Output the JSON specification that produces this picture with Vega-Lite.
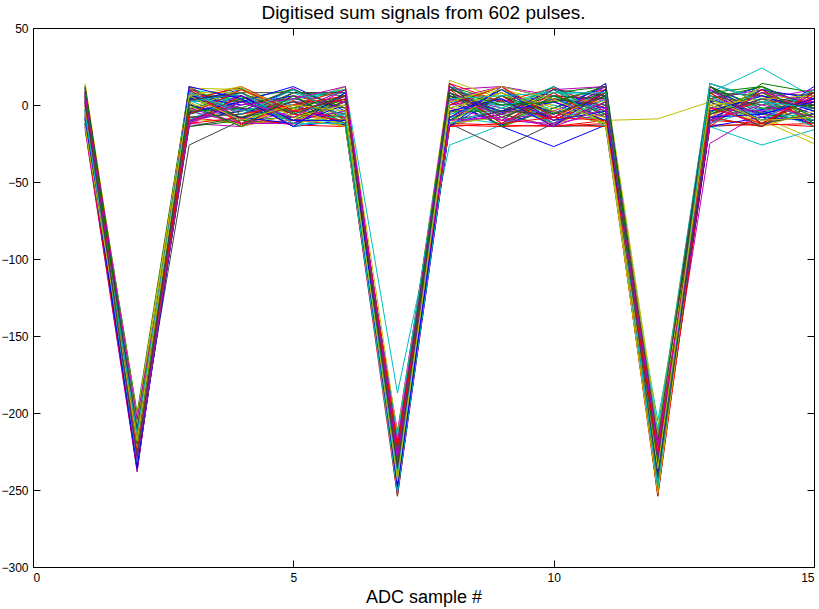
{
  "$schema": "https://vega.github.io/schema/vega-lite/v6.json",
  "width": 781,
  "height": 539,
  "autosize": {"type": "none"},
  "padding": {"left": 33, "top": 28, "right": 5, "bottom": 42},
  "background": "white",
  "title": {"text": "Digitised sum signals from 602 pulses.", "font": "Liberation Sans", "fontSize": 19, "fontWeight": "normal", "color": "black", "offset": 8, "baseline": "alphabetic", "dy": 24},
  "config": {
    "view": {"stroke": "black", "strokeWidth": 1},
    "axis": {"domain": false, "grid": false, "tickColor": "black", "tickWidth": 1, "tickSize": -7, "labelFont": "Liberation Sans", "labelFontSize": 12, "labelColor": "black", "labelPadding": 12, "titleFont": "Liberation Sans", "titleFontSize": 18, "titleFontWeight": "normal", "titleColor": "black"}
  },
  "data": {"values": [
    {"p":1,"x":1,"y":2},{"p":1,"x":2,"y":-222},{"p":1,"x":3,"y":5},{"p":1,"x":4,"y":-3},{"p":1,"x":5,"y":-8},{"p":1,"x":6,"y":2},{"p":1,"x":7,"y":-236},{"p":1,"x":8,"y":4},{"p":1,"x":9,"y":-14},{"p":1,"x":10,"y":-27},{"p":1,"x":11,"y":-13},{"p":1,"x":12,"y":-228},{"p":1,"x":13,"y":-4},{"p":1,"x":14,"y":6},{"p":1,"x":15,"y":-6},
    {"p":2,"x":1,"y":10},{"p":2,"x":2,"y":-215},{"p":2,"x":3,"y":8},{"p":2,"x":4,"y":3},{"p":2,"x":5,"y":-5},{"p":2,"x":6,"y":6},{"p":2,"x":7,"y":-242},{"p":2,"x":8,"y":12},{"p":2,"x":9,"y":2},{"p":2,"x":10,"y":-8},{"p":2,"x":11,"y":10},{"p":2,"x":12,"y":-254},{"p":2,"x":13,"y":3},{"p":2,"x":14,"y":-5},{"p":2,"x":15,"y":4},
    {"p":3,"x":1,"y":-5},{"p":3,"x":2,"y":-226},{"p":3,"x":3,"y":-8},{"p":3,"x":4,"y":-12},{"p":3,"x":5,"y":-10},{"p":3,"x":6,"y":-13},{"p":3,"x":7,"y":-250},{"p":3,"x":8,"y":-12},{"p":3,"x":9,"y":-13},{"p":3,"x":10,"y":-14},{"p":3,"x":11,"y":-12},{"p":3,"x":12,"y":-232},{"p":3,"x":13,"y":-10},{"p":3,"x":14,"y":-12},{"p":3,"x":15,"y":-14},
    {"p":4,"x":1,"y":6},{"p":4,"x":2,"y":-210},{"p":4,"x":3,"y":10},{"p":4,"x":4,"y":5},{"p":4,"x":5,"y":0},{"p":4,"x":6,"y":12},{"p":4,"x":7,"y":-187},{"p":4,"x":8,"y":-26},{"p":4,"x":9,"y":-13},{"p":4,"x":10,"y":2},{"p":4,"x":11,"y":5},{"p":4,"x":12,"y":-220},{"p":4,"x":13,"y":8},{"p":4,"x":14,"y":24},{"p":4,"x":15,"y":5},
    {"p":5,"x":1,"y":-10},{"p":5,"x":2,"y":-230},{"p":5,"x":3,"y":-12},{"p":5,"x":4,"y":-14},{"p":5,"x":5,"y":-6},{"p":5,"x":6,"y":-8},{"p":5,"x":7,"y":-215},{"p":5,"x":8,"y":10},{"p":5,"x":9,"y":12},{"p":5,"x":10,"y":6},{"p":5,"x":11,"y":3},{"p":5,"x":12,"y":-240},{"p":5,"x":13,"y":-25},{"p":5,"x":14,"y":-5},{"p":5,"x":15,"y":-12},
    {"p":6,"x":1,"y":13},{"p":6,"x":2,"y":-205},{"p":6,"x":3,"y":6},{"p":6,"x":4,"y":2},{"p":6,"x":5,"y":-3},{"p":6,"x":6,"y":0},{"p":6,"x":7,"y":-225},{"p":6,"x":8,"y":5},{"p":6,"x":9,"y":3},{"p":6,"x":10,"y":0},{"p":6,"x":11,"y":-10},{"p":6,"x":12,"y":-9},{"p":6,"x":13,"y":2},{"p":6,"x":14,"y":-10},{"p":6,"x":15,"y":-25},
    {"p":7,"x":1,"y":0},{"p":7,"x":2,"y":-238},{"p":7,"x":3,"y":4},{"p":7,"x":4,"y":8},{"p":7,"x":5,"y":8},{"p":7,"x":6,"y":8},{"p":7,"x":7,"y":-230},{"p":7,"x":8,"y":-12},{"p":7,"x":9,"y":-28},{"p":7,"x":10,"y":-12},{"p":7,"x":11,"y":0},{"p":7,"x":12,"y":-225},{"p":7,"x":13,"y":-8},{"p":7,"x":14,"y":-3},{"p":7,"x":15,"y":2},
    {"p":8,"x":1,"y":-3},{"p":8,"x":2,"y":-218},{"p":8,"x":3,"y":2},{"p":8,"x":4,"y":10},{"p":8,"x":5,"y":-2},{"p":8,"x":6,"y":-12},{"p":8,"x":7,"y":-245},{"p":8,"x":8,"y":8},{"p":8,"x":9,"y":-5},{"p":8,"x":10,"y":4},{"p":8,"x":11,"y":-8},{"p":8,"x":12,"y":-236},{"p":8,"x":13,"y":12},{"p":8,"x":14,"y":-3},{"p":8,"x":15,"y":8},
    {"p":9,"x":1,"y":8},{"p":9,"x":2,"y":-200},{"p":9,"x":3,"y":12},{"p":9,"x":4,"y":-6},{"p":9,"x":5,"y":4},{"p":9,"x":6,"y":10},{"p":9,"x":7,"y":-228},{"p":9,"x":8,"y":14},{"p":9,"x":9,"y":-8},{"p":9,"x":10,"y":8},{"p":9,"x":11,"y":12},{"p":9,"x":12,"y":-215},{"p":9,"x":13,"y":-5},{"p":9,"x":14,"y":10},{"p":9,"x":15,"y":-8},
    {"p":10,"x":1,"y":4},{"p":10,"x":2,"y":-224},{"p":10,"x":3,"y":-4},{"p":10,"x":4,"y":6},{"p":10,"x":5,"y":-12},{"p":10,"x":6,"y":3},{"p":10,"x":7,"y":-252},{"p":10,"x":8,"y":-10},{"p":10,"x":9,"y":6},{"p":10,"x":10,"y":-12},{"p":10,"x":11,"y":8},{"p":10,"x":12,"y":-244},{"p":10,"x":13,"y":6},{"p":10,"x":14,"y":-10},{"p":10,"x":15,"y":10},
    {"p":11,"x":1,"y":-8},{"p":11,"x":2,"y":-212},{"p":11,"x":3,"y":3},{"p":11,"x":4,"y":-10},{"p":11,"x":5,"y":8},{"p":11,"x":6,"y":-5},{"p":11,"x":7,"y":-222},{"p":11,"x":8,"y":-14},{"p":11,"x":9,"y":10},{"p":11,"x":10,"y":-4},{"p":11,"x":11,"y":-12},{"p":11,"x":12,"y":-205},{"p":11,"x":13,"y":-14},{"p":11,"x":14,"y":-26},{"p":11,"x":15,"y":-16},
    {"p":12,"x":1,"y":1},{"p":12,"x":2,"y":-234},{"p":12,"x":3,"y":-13},{"p":12,"x":4,"y":4},{"p":12,"x":5,"y":-14},{"p":12,"x":6,"y":6},{"p":12,"x":7,"y":-238},{"p":12,"x":8,"y":3},{"p":12,"x":9,"y":-10},{"p":12,"x":10,"y":12},{"p":12,"x":11,"y":-4},{"p":12,"x":12,"y":-250},{"p":12,"x":13,"y":-12},{"p":12,"x":14,"y":8},{"p":12,"x":15,"y":-4},
    {"p":13,"x":1,"y":14},{"p":13,"x":2,"y":-208},{"p":13,"x":3,"y":0},{"p":13,"x":4,"y":-8},{"p":13,"x":5,"y":6},{"p":13,"x":6,"y":-10},{"p":13,"x":7,"y":-218},{"p":13,"x":8,"y":16},{"p":13,"x":9,"y":4},{"p":13,"x":10,"y":-6},{"p":13,"x":11,"y":14},{"p":13,"x":12,"y":-210},{"p":13,"x":13,"y":10},{"p":13,"x":14,"y":-8},{"p":13,"x":15,"y":-22},
    {"p":14,"x":1,"y":-12},{"p":14,"x":2,"y":-228},{"p":14,"x":3,"y":-26},{"p":14,"x":4,"y":-10},{"p":14,"x":5,"y":-12},{"p":14,"x":6,"y":-6},{"p":14,"x":7,"y":-240},{"p":14,"x":8,"y":-5},{"p":14,"x":9,"y":8},{"p":14,"x":10,"y":-10},{"p":14,"x":11,"y":6},{"p":14,"x":12,"y":-238},{"p":14,"x":13,"y":-12},{"p":14,"x":14,"y":4},{"p":14,"x":15,"y":-10},
    {"p":15,"x":1,"y":-14},{"p":15,"x":2,"y":-236},{"p":15,"x":3,"y":-10},{"p":15,"x":4,"y":-4},{"p":15,"x":5,"y":10},{"p":15,"x":6,"y":-8},{"p":15,"x":7,"y":-232},{"p":15,"x":8,"y":-12},{"p":15,"x":9,"y":-4},{"p":15,"x":10,"y":10},{"p":15,"x":11,"y":-6},{"p":15,"x":12,"y":-226},{"p":15,"x":13,"y":2},{"p":15,"x":14,"y":12},{"p":15,"x":15,"y":-2},
    {"p":16,"x":1,"y":5},{"p":16,"x":2,"y":-216},{"p":16,"x":3,"y":4},{"p":16,"x":4,"y":11},{"p":16,"x":5,"y":-8},{"p":16,"x":6,"y":2},{"p":16,"x":7,"y":-248},{"p":16,"x":8,"y":0},{"p":16,"x":9,"y":12},{"p":16,"x":10,"y":-13},{"p":16,"x":11,"y":2},{"p":16,"x":12,"y":-248},{"p":16,"x":13,"y":-8},{"p":16,"x":14,"y":-14},{"p":16,"x":15,"y":6},
    {"p":17,"x":1,"y":-6},{"p":17,"x":2,"y":-204},{"p":17,"x":3,"y":10},{"p":17,"x":4,"y":-13},{"p":17,"x":5,"y":3},{"p":17,"x":6,"y":-14},{"p":17,"x":7,"y":-226},{"p":17,"x":8,"y":12},{"p":17,"x":9,"y":-12},{"p":17,"x":10,"y":3},{"p":17,"x":11,"y":10},{"p":17,"x":12,"y":-218},{"p":17,"x":13,"y":14},{"p":17,"x":14,"y":2},{"p":17,"x":15,"y":-8},
    {"p":18,"x":1,"y":9},{"p":18,"x":2,"y":-220},{"p":18,"x":3,"y":-6},{"p":18,"x":4,"y":2},{"p":18,"x":5,"y":-4},{"p":18,"x":6,"y":10},{"p":18,"x":7,"y":-244},{"p":18,"x":8,"y":-8},{"p":18,"x":9,"y":0},{"p":18,"x":10,"y":6},{"p":18,"x":11,"y":-14},{"p":18,"x":12,"y":-232},{"p":18,"x":13,"y":-2},{"p":18,"x":14,"y":-6},{"p":18,"x":15,"y":10},
    {"p":19,"x":1,"y":-16},{"p":19,"x":2,"y":-238},{"p":19,"x":3,"y":7},{"p":19,"x":4,"y":-6},{"p":19,"x":5,"y":2},{"p":19,"x":6,"y":-12},{"p":19,"x":7,"y":-212},{"p":19,"x":8,"y":6},{"p":19,"x":9,"y":-2},{"p":19,"x":10,"y":-8},{"p":19,"x":11,"y":4},{"p":19,"x":12,"y":-242},{"p":19,"x":13,"y":4},{"p":19,"x":14,"y":10},{"p":19,"x":15,"y":0},
    {"p":20,"x":1,"y":12},{"p":20,"x":2,"y":-210},{"p":20,"x":3,"y":-2},{"p":20,"x":4,"y":4},{"p":20,"x":5,"y":-10},{"p":20,"x":6,"y":4},{"p":20,"x":7,"y":-236},{"p":20,"x":8,"y":-4},{"p":20,"x":9,"y":10},{"p":20,"x":10,"y":2},{"p":20,"x":11,"y":-8},{"p":20,"x":12,"y":-222},{"p":20,"x":13,"y":-6},{"p":20,"x":14,"y":6},{"p":20,"x":15,"y":-12},
    {"p":21,"x":1,"y":-2},{"p":21,"x":2,"y":-226},{"p":21,"x":3,"y":1},{"p":21,"x":4,"y":-14},{"p":21,"x":5,"y":0},{"p":21,"x":6,"y":-13},{"p":21,"x":7,"y":-246},{"p":21,"x":8,"y":-13},{"p":21,"x":9,"y":-6},{"p":21,"x":10,"y":-14},{"p":21,"x":11,"y":-13},{"p":21,"x":12,"y":-236},{"p":21,"x":13,"y":-14},{"p":21,"x":14,"y":-12},{"p":21,"x":15,"y":-6},
    {"p":22,"x":1,"y":3},{"p":22,"x":2,"y":-230},{"p":22,"x":3,"y":9},{"p":22,"x":4,"y":-2},{"p":22,"x":5,"y":-10},{"p":22,"x":6,"y":-4},{"p":22,"x":7,"y":-220},{"p":22,"x":8,"y":2},{"p":22,"x":9,"y":-13},{"p":22,"x":10,"y":-2},{"p":22,"x":11,"y":12},{"p":22,"x":12,"y":-246},{"p":22,"x":13,"y":8},{"p":22,"x":14,"y":-10},{"p":22,"x":15,"y":12},
    {"p":23,"x":1,"y":-9},{"p":23,"x":2,"y":-232},{"p":23,"x":3,"y":-3},{"p":23,"x":4,"y":8},{"p":23,"x":5,"y":-12},{"p":23,"x":6,"y":8},{"p":23,"x":7,"y":-254},{"p":23,"x":8,"y":-2},{"p":23,"x":9,"y":8},{"p":23,"x":10,"y":-5},{"p":23,"x":11,"y":-10},{"p":23,"x":12,"y":-252},{"p":23,"x":13,"y":-4},{"p":23,"x":14,"y":2},{"p":23,"x":15,"y":-14},
    {"p":24,"x":1,"y":7},{"p":24,"x":2,"y":-212},{"p":24,"x":3,"y":11},{"p":24,"x":4,"y":-9},{"p":24,"x":5,"y":6},{"p":24,"x":6,"y":-2},{"p":24,"x":7,"y":-234},{"p":24,"x":8,"y":10},{"p":24,"x":9,"y":2},{"p":24,"x":10,"y":11},{"p":24,"x":11,"y":-2},{"p":24,"x":12,"y":-214},{"p":24,"x":13,"y":12},{"p":24,"x":14,"y":-12},{"p":24,"x":15,"y":4},
    {"p":25,"x":1,"y":-4},{"p":25,"x":2,"y":-224},{"p":25,"x":3,"y":-12},{"p":25,"x":4,"y":10},{"p":25,"x":5,"y":-6},{"p":25,"x":6,"y":4},{"p":25,"x":7,"y":-228},{"p":25,"x":8,"y":-12},{"p":25,"x":9,"y":-8},{"p":25,"x":10,"y":8},{"p":25,"x":11,"y":6},{"p":25,"x":12,"y":-228},{"p":25,"x":13,"y":-10},{"p":25,"x":14,"y":12},{"p":25,"x":15,"y":-4},
    {"p":26,"x":1,"y":2},{"p":26,"x":2,"y":-218},{"p":26,"x":3,"y":4},{"p":26,"x":4,"y":-4},{"p":26,"x":5,"y":11},{"p":26,"x":6,"y":-9},{"p":26,"x":7,"y":-250},{"p":26,"x":8,"y":4},{"p":26,"x":9,"y":12},{"p":26,"x":10,"y":-12},{"p":26,"x":11,"y":-6},{"p":26,"x":12,"y":-238},{"p":26,"x":13,"y":0},{"p":26,"x":14,"y":-14},{"p":26,"x":15,"y":2},
    {"p":27,"x":1,"y":10},{"p":27,"x":2,"y":-206},{"p":27,"x":3,"y":-9},{"p":27,"x":4,"y":-12},{"p":27,"x":5,"y":-2},{"p":27,"x":6,"y":12},{"p":27,"x":7,"y":-214},{"p":27,"x":8,"y":8},{"p":27,"x":9,"y":-14},{"p":27,"x":10,"y":4},{"p":27,"x":11,"y":2},{"p":27,"x":12,"y":-244},{"p":27,"x":13,"y":6},{"p":27,"x":14,"y":-2},{"p":27,"x":15,"y":-10},
    {"p":28,"x":1,"y":-7},{"p":28,"x":2,"y":-216},{"p":28,"x":3,"y":6},{"p":28,"x":4,"y":2},{"p":28,"x":5,"y":4},{"p":28,"x":6,"y":-2},{"p":28,"x":7,"y":-232},{"p":28,"x":8,"y":-6},{"p":28,"x":9,"y":3},{"p":28,"x":10,"y":-4},{"p":28,"x":11,"y":-12},{"p":28,"x":12,"y":-230},{"p":28,"x":13,"y":-2},{"p":28,"x":14,"y":8},{"p":28,"x":15,"y":6},
    {"p":29,"x":1,"y":-12},{"p":29,"x":2,"y":-234},{"p":29,"x":3,"y":-11},{"p":29,"x":4,"y":6},{"p":29,"x":5,"y":-14},{"p":29,"x":6,"y":-10},{"p":29,"x":7,"y":-242},{"p":29,"x":8,"y":-14},{"p":29,"x":9,"y":6},{"p":29,"x":10,"y":-10},{"p":29,"x":11,"y":8},{"p":29,"x":12,"y":-234},{"p":29,"x":13,"y":10},{"p":29,"x":14,"y":-4},{"p":29,"x":15,"y":-12},
    {"p":30,"x":1,"y":11},{"p":30,"x":2,"y":-208},{"p":30,"x":3,"y":12},{"p":30,"x":4,"y":-12},{"p":30,"x":5,"y":8},{"p":30,"x":6,"y":6},{"p":30,"x":7,"y":-222},{"p":30,"x":8,"y":6},{"p":30,"x":9,"y":-10},{"p":30,"x":10,"y":10},{"p":30,"x":11,"y":-12},{"p":30,"x":12,"y":-222},{"p":30,"x":13,"y":-12},{"p":30,"x":14,"y":14},{"p":30,"x":15,"y":8},
    {"p":31,"x":1,"y":0},{"p":31,"x":2,"y":-228},{"p":31,"x":3,"y":-12},{"p":31,"x":4,"y":-8},{"p":31,"x":5,"y":-13},{"p":31,"x":6,"y":-14},{"p":31,"x":7,"y":-254},{"p":31,"x":8,"y":-13},{"p":31,"x":9,"y":-14},{"p":31,"x":10,"y":-13},{"p":31,"x":11,"y":-14},{"p":31,"x":12,"y":-250},{"p":31,"x":13,"y":-13},{"p":31,"x":14,"y":-13},{"p":31,"x":15,"y":-12},
    {"p":32,"x":1,"y":6},{"p":32,"x":2,"y":-214},{"p":32,"x":3,"y":2},{"p":32,"x":4,"y":4},{"p":32,"x":5,"y":-8},{"p":32,"x":6,"y":-12},{"p":32,"x":7,"y":-236},{"p":32,"x":8,"y":2},{"p":32,"x":9,"y":4},{"p":32,"x":10,"y":-12},{"p":32,"x":11,"y":10},{"p":32,"x":12,"y":-216},{"p":32,"x":13,"y":4},{"p":32,"x":14,"y":-8},{"p":32,"x":15,"y":-6},
    {"p":33,"x":1,"y":-8},{"p":33,"x":2,"y":-236},{"p":33,"x":3,"y":-4},{"p":33,"x":4,"y":-12},{"p":33,"x":5,"y":-4},{"p":33,"x":6,"y":10},{"p":33,"x":7,"y":-226},{"p":33,"x":8,"y":-12},{"p":33,"x":9,"y":-6},{"p":33,"x":10,"y":2},{"p":33,"x":11,"y":-8},{"p":33,"x":12,"y":-246},{"p":33,"x":13,"y":-8},{"p":33,"x":14,"y":4},{"p":33,"x":15,"y":10},
    {"p":34,"x":1,"y":4},{"p":34,"x":2,"y":-202},{"p":34,"x":3,"y":8},{"p":34,"x":4,"y":8},{"p":34,"x":5,"y":-12},{"p":34,"x":6,"y":-6},{"p":34,"x":7,"y":-244},{"p":34,"x":8,"y":-6},{"p":34,"x":9,"y":8},{"p":34,"x":10,"y":-14},{"p":34,"x":11,"y":4},{"p":34,"x":12,"y":-212},{"p":34,"x":13,"y":8},{"p":34,"x":14,"y":-14},{"p":34,"x":15,"y":-4},
    {"p":35,"x":1,"y":-3},{"p":35,"x":2,"y":-222},{"p":35,"x":3,"y":-8},{"p":35,"x":4,"y":-4},{"p":35,"x":5,"y":2},{"p":35,"x":6,"y":2},{"p":35,"x":7,"y":-218},{"p":35,"x":8,"y":12},{"p":35,"x":9,"y":-12},{"p":35,"x":10,"y":6},{"p":35,"x":11,"y":-4},{"p":35,"x":12,"y":-240},{"p":35,"x":13,"y":2},{"p":35,"x":14,"y":-10},{"p":35,"x":15,"y":-2},
    {"p":36,"x":1,"y":7},{"p":36,"x":2,"y":-214},{"p":36,"x":3,"y":6},{"p":36,"x":4,"y":0},{"p":36,"x":5,"y":6},{"p":36,"x":6,"y":-14},{"p":36,"x":7,"y":-248},{"p":36,"x":8,"y":-10},{"p":36,"x":9,"y":10},{"p":36,"x":10,"y":-6},{"p":36,"x":11,"y":14},{"p":36,"x":12,"y":-232},{"p":36,"x":13,"y":-10},{"p":36,"x":14,"y":10},{"p":36,"x":15,"y":4},
    {"p":37,"x":1,"y":-5},{"p":37,"x":2,"y":-228},{"p":37,"x":3,"y":-14},{"p":37,"x":4,"y":-10},{"p":37,"x":5,"y":-8},{"p":37,"x":6,"y":4},{"p":37,"x":7,"y":-230},{"p":37,"x":8,"y":-4},{"p":37,"x":9,"y":-4},{"p":37,"x":10,"y":12},{"p":37,"x":11,"y":-8},{"p":37,"x":12,"y":-226},{"p":37,"x":13,"y":12},{"p":37,"x":14,"y":-6},{"p":37,"x":15,"y":-10},
    {"p":38,"x":1,"y":12},{"p":38,"x":2,"y":-210},{"p":38,"x":3,"y":3},{"p":38,"x":4,"y":12},{"p":38,"x":5,"y":-4},{"p":38,"x":6,"y":-8},{"p":38,"x":7,"y":-240},{"p":38,"x":8,"y":14},{"p":38,"x":9,"y":2},{"p":38,"x":10,"y":-10},{"p":38,"x":11,"y":6},{"p":38,"x":12,"y":-242},{"p":38,"x":13,"y":-6},{"p":38,"x":14,"y":2},{"p":38,"x":15,"y":2},
    {"p":39,"x":1,"y":-10},{"p":39,"x":2,"y":-232},{"p":39,"x":3,"y":10},{"p":39,"x":4,"y":-12},{"p":39,"x":5,"y":4},{"p":39,"x":6,"y":8},{"p":39,"x":7,"y":-232},{"p":39,"x":8,"y":-8},{"p":39,"x":9,"y":-12},{"p":39,"x":10,"y":0},{"p":39,"x":11,"y":-10},{"p":39,"x":12,"y":-220},{"p":39,"x":13,"y":-12},{"p":39,"x":14,"y":-2},{"p":39,"x":15,"y":-14},
    {"p":40,"x":1,"y":5},{"p":40,"x":2,"y":-220},{"p":40,"x":3,"y":-6},{"p":40,"x":4,"y":6},{"p":40,"x":5,"y":-10},{"p":40,"x":6,"y":-4},{"p":40,"x":7,"y":-246},{"p":40,"x":8,"y":0},{"p":40,"x":9,"y":4},{"p":40,"x":10,"y":-8},{"p":40,"x":11,"y":12},{"p":40,"x":12,"y":-236},{"p":40,"x":13,"y":10},{"p":40,"x":14,"y":-12},{"p":40,"x":15,"y":6},
    {"p":41,"x":1,"y":-6},{"p":41,"x":2,"y":-226},{"p":41,"x":3,"y":2},{"p":41,"x":4,"y":-14},{"p":41,"x":5,"y":-6},{"p":41,"x":6,"y":-12},{"p":41,"x":7,"y":-224},{"p":41,"x":8,"y":-12},{"p":41,"x":9,"y":-8},{"p":41,"x":10,"y":8},{"p":41,"x":11,"y":-14},{"p":41,"x":12,"y":-248},{"p":41,"x":13,"y":-4},{"p":41,"x":14,"y":8},{"p":41,"x":15,"y":-8},
    {"p":42,"x":1,"y":8},{"p":42,"x":2,"y":-212},{"p":42,"x":3,"y":-10},{"p":42,"x":4,"y":2},{"p":42,"x":5,"y":-10},{"p":42,"x":6,"y":6},{"p":42,"x":7,"y":-238},{"p":42,"x":8,"y":4},{"p":42,"x":9,"y":0},{"p":42,"x":10,"y":-12},{"p":42,"x":11,"y":2},{"p":42,"x":12,"y":-218},{"p":42,"x":13,"y":6},{"p":42,"x":14,"y":0},{"p":42,"x":15,"y":8},
    {"p":43,"x":1,"y":-9},{"p":43,"x":2,"y":-230},{"p":43,"x":3,"y":0},{"p":43,"x":4,"y":-8},{"p":43,"x":5,"y":-12},{"p":43,"x":6,"y":0},{"p":43,"x":7,"y":-252},{"p":43,"x":8,"y":-14},{"p":43,"x":9,"y":12},{"p":43,"x":10,"y":4},{"p":43,"x":11,"y":-2},{"p":43,"x":12,"y":-244},{"p":43,"x":13,"y":-14},{"p":43,"x":14,"y":-8},{"p":43,"x":15,"y":-10},
    {"p":44,"x":1,"y":3},{"p":44,"x":2,"y":-218},{"p":44,"x":3,"y":-6},{"p":44,"x":4,"y":4},{"p":44,"x":5,"y":10},{"p":44,"x":6,"y":-10},{"p":44,"x":7,"y":-236},{"p":44,"x":8,"y":8},{"p":44,"x":9,"y":-14},{"p":44,"x":10,"y":-2},{"p":44,"x":11,"y":8},{"p":44,"x":12,"y":-230},{"p":44,"x":13,"y":4},{"p":44,"x":14,"y":12},{"p":44,"x":15,"y":-2},
    {"p":45,"x":1,"y":-14},{"p":45,"x":2,"y":-236},{"p":45,"x":3,"y":8},{"p":45,"x":4,"y":-6},{"p":45,"x":5,"y":0},{"p":45,"x":6,"y":10},{"p":45,"x":7,"y":-228},{"p":45,"x":8,"y":-8},{"p":45,"x":9,"y":6},{"p":45,"x":10,"y":-14},{"p":45,"x":11,"y":-10},{"p":45,"x":12,"y":-254},{"p":45,"x":13,"y":-8},{"p":45,"x":14,"y":-14},{"p":45,"x":15,"y":10},
    {"p":46,"x":1,"y":1},{"p":46,"x":2,"y":-206},{"p":46,"x":3,"y":-10},{"p":46,"x":4,"y":8},{"p":46,"x":5,"y":-14},{"p":46,"x":6,"y":-6},{"p":46,"x":7,"y":-216},{"p":46,"x":8,"y":12},{"p":46,"x":9,"y":-2},{"p":46,"x":10,"y":10},{"p":46,"x":11,"y":-6},{"p":46,"x":12,"y":-212},{"p":46,"x":13,"y":14},{"p":46,"x":14,"y":4},{"p":46,"x":15,"y":-12},
    {"p":47,"x":1,"y":9},{"p":47,"x":2,"y":-224},{"p":47,"x":3,"y":12},{"p":47,"x":4,"y":-10},{"p":47,"x":5,"y":6},{"p":47,"x":6,"y":2},{"p":47,"x":7,"y":-242},{"p":47,"x":8,"y":-2},{"p":47,"x":9,"y":-10},{"p":47,"x":10,"y":-4},{"p":47,"x":11,"y":10},{"p":47,"x":12,"y":-226},{"p":47,"x":13,"y":-2},{"p":47,"x":14,"y":-4},{"p":47,"x":15,"y":4},
    {"p":48,"x":1,"y":-1},{"p":48,"x":2,"y":-234},{"p":48,"x":3,"y":-2},{"p":48,"x":4,"y":10},{"p":48,"x":5,"y":-8},{"p":48,"x":6,"y":-14},{"p":48,"x":7,"y":-234},{"p":48,"x":8,"y":2},{"p":48,"x":9,"y":10},{"p":48,"x":10,"y":-10},{"p":48,"x":11,"y":-4},{"p":48,"x":12,"y":-240},{"p":48,"x":13,"y":0},{"p":48,"x":14,"y":-12},{"p":48,"x":15,"y":-6},
    {"p":49,"x":1,"y":6},{"p":49,"x":2,"y":-220},{"p":49,"x":3,"y":4},{"p":49,"x":4,"y":-2},{"p":49,"x":5,"y":-4},{"p":49,"x":6,"y":4},{"p":49,"x":7,"y":-248},{"p":49,"x":8,"y":-10},{"p":49,"x":9,"y":-4},{"p":49,"x":10,"y":6},{"p":49,"x":11,"y":4},{"p":49,"x":12,"y":-234},{"p":49,"x":13,"y":8},{"p":49,"x":14,"y":6},{"p":49,"x":15,"y":0},
    {"p":50,"x":1,"y":4},{"p":50,"x":2,"y":-226},{"p":50,"x":3,"y":-5},{"p":50,"x":4,"y":2},{"p":50,"x":5,"y":12},{"p":50,"x":6,"y":-4},{"p":50,"x":7,"y":-240},{"p":50,"x":8,"y":6},{"p":50,"x":9,"y":-4},{"p":50,"x":10,"y":2},{"p":50,"x":11,"y":-10},{"p":50,"x":12,"y":-232},{"p":50,"x":13,"y":4},{"p":50,"x":14,"y":-6},{"p":50,"x":15,"y":2},
    {"p":51,"x":1,"y":-7},{"p":51,"x":2,"y":-212},{"p":51,"x":3,"y":5},{"p":51,"x":4,"y":-8},{"p":51,"x":5,"y":-2},{"p":51,"x":6,"y":6},{"p":51,"x":7,"y":-232},{"p":51,"x":8,"y":-10},{"p":51,"x":9,"y":6},{"p":51,"x":10,"y":-6},{"p":51,"x":11,"y":6},{"p":51,"x":12,"y":-246},{"p":51,"x":13,"y":-6},{"p":51,"x":14,"y":8},{"p":51,"x":15,"y":-8},
    {"p":52,"x":1,"y":9},{"p":52,"x":2,"y":-218},{"p":52,"x":3,"y":-12},{"p":52,"x":4,"y":6},{"p":52,"x":5,"y":-6},{"p":52,"x":6,"y":-10},{"p":52,"x":7,"y":-250},{"p":52,"x":8,"y":10},{"p":52,"x":9,"y":-12},{"p":52,"x":10,"y":8},{"p":52,"x":11,"y":-12},{"p":52,"x":12,"y":-236},{"p":52,"x":13,"y":8},{"p":52,"x":14,"y":-12},{"p":52,"x":15,"y":6},
    {"p":53,"x":1,"y":-3},{"p":53,"x":2,"y":-230},{"p":53,"x":3,"y":8},{"p":53,"x":4,"y":-4},{"p":53,"x":5,"y":4},{"p":53,"x":6,"y":10},{"p":53,"x":7,"y":-238},{"p":53,"x":8,"y":-6},{"p":53,"x":9,"y":2},{"p":53,"x":10,"y":-12},{"p":53,"x":11,"y":4},{"p":53,"x":12,"y":-224},{"p":53,"x":13,"y":-12},{"p":53,"x":14,"y":2},{"p":53,"x":15,"y":-10},
    {"p":54,"x":1,"y":6},{"p":54,"x":2,"y":-222},{"p":54,"x":3,"y":-2},{"p":54,"x":4,"y":-12},{"p":54,"x":5,"y":-12},{"p":54,"x":6,"y":2},{"p":54,"x":7,"y":-220},{"p":54,"x":8,"y":4},{"p":54,"x":9,"y":-6},{"p":54,"x":10,"y":10},{"p":54,"x":11,"y":12},{"p":54,"x":12,"y":-242},{"p":54,"x":13,"y":10},{"p":54,"x":14,"y":-8},{"p":54,"x":15,"y":4},
    {"p":55,"x":1,"y":-10},{"p":55,"x":2,"y":-208},{"p":55,"x":3,"y":11},{"p":55,"x":4,"y":10},{"p":55,"x":5,"y":-2},{"p":55,"x":6,"y":-14},{"p":55,"x":7,"y":-244},{"p":55,"x":8,"y":-12},{"p":55,"x":9,"y":10},{"p":55,"x":10,"y":-2},{"p":55,"x":11,"y":-8},{"p":55,"x":12,"y":-216},{"p":55,"x":13,"y":-8},{"p":55,"x":14,"y":12},{"p":55,"x":15,"y":-12},
    {"p":56,"x":1,"y":2},{"p":56,"x":2,"y":-234},{"p":56,"x":3,"y":-8},{"p":56,"x":4,"y":-6},{"p":56,"x":5,"y":8},{"p":56,"x":6,"y":8},{"p":56,"x":7,"y":-230},{"p":56,"x":8,"y":12},{"p":56,"x":9,"y":-8},{"p":56,"x":10,"y":4},{"p":56,"x":11,"y":0},{"p":56,"x":12,"y":-250},{"p":56,"x":13,"y":2},{"p":56,"x":14,"y":-14},{"p":56,"x":15,"y":8},
    {"p":57,"x":1,"y":11},{"p":57,"x":2,"y":-214},{"p":57,"x":3,"y":4},{"p":57,"x":4,"y":6},{"p":57,"x":5,"y":-10},{"p":57,"x":6,"y":-10},{"p":57,"x":7,"y":-246},{"p":57,"x":8,"y":-4},{"p":57,"x":9,"y":4},{"p":57,"x":10,"y":-14},{"p":57,"x":11,"y":10},{"p":57,"x":12,"y":-228},{"p":57,"x":13,"y":-4},{"p":57,"x":14,"y":6},{"p":57,"x":15,"y":-4},
    {"p":58,"x":1,"y":-12},{"p":58,"x":2,"y":-228},{"p":58,"x":3,"y":-4},{"p":58,"x":4,"y":-2},{"p":58,"x":5,"y":10},{"p":58,"x":6,"y":-2},{"p":58,"x":7,"y":-226},{"p":58,"x":8,"y":8},{"p":58,"x":9,"y":-14},{"p":58,"x":10,"y":6},{"p":58,"x":11,"y":-6},{"p":58,"x":12,"y":-238},{"p":58,"x":13,"y":12},{"p":58,"x":14,"y":-2},{"p":58,"x":15,"y":0},
    {"p":59,"x":1,"y":3},{"p":59,"x":2,"y":-216},{"p":59,"x":3,"y":10},{"p":59,"x":4,"y":-12},{"p":59,"x":5,"y":0},{"p":59,"x":6,"y":6},{"p":59,"x":7,"y":-236},{"p":59,"x":8,"y":0},{"p":59,"x":9,"y":12},{"p":59,"x":10,"y":-8},{"p":59,"x":11,"y":8},{"p":59,"x":12,"y":-220},{"p":59,"x":13,"y":-14},{"p":59,"x":14,"y":10},{"p":59,"x":15,"y":-14},
    {"p":60,"x":1,"y":-4},{"p":60,"x":2,"y":-232},{"p":60,"x":3,"y":2},{"p":60,"x":4,"y":8},{"p":60,"x":5,"y":-12},{"p":60,"x":6,"y":-12},{"p":60,"x":7,"y":-252},{"p":60,"x":8,"y":-12},{"p":60,"x":9,"y":-2},{"p":60,"x":10,"y":12},{"p":60,"x":11,"y":-14},{"p":60,"x":12,"y":-244},{"p":60,"x":13,"y":6},{"p":60,"x":14,"y":-10},{"p":60,"x":15,"y":10},
    {"p":61,"x":1,"y":8},{"p":61,"x":2,"y":-204},{"p":61,"x":3,"y":-10},{"p":61,"x":4,"y":0},{"p":61,"x":5,"y":4},{"p":61,"x":6,"y":12},{"p":61,"x":7,"y":-228},{"p":61,"x":8,"y":14},{"p":61,"x":9,"y":-10},{"p":61,"x":10,"y":-12},{"p":61,"x":11,"y":2},{"p":61,"x":12,"y":-230},{"p":61,"x":13,"y":-10},{"p":61,"x":14,"y":0},{"p":61,"x":15,"y":-8},
    {"p":62,"x":1,"y":-2},{"p":62,"x":2,"y":-224},{"p":62,"x":3,"y":6},{"p":62,"x":4,"y":12},{"p":62,"x":5,"y":-8},{"p":62,"x":6,"y":0},{"p":62,"x":7,"y":-242},{"p":62,"x":8,"y":-2},{"p":62,"x":9,"y":8},{"p":62,"x":10,"y":-4},{"p":62,"x":11,"y":-12},{"p":62,"x":12,"y":-252},{"p":62,"x":13,"y":0},{"p":62,"x":14,"y":4},{"p":62,"x":15,"y":6},
    {"p":63,"x":1,"y":5},{"p":63,"x":2,"y":-210},{"p":63,"x":3,"y":-14},{"p":63,"x":4,"y":-8},{"p":63,"x":5,"y":2},{"p":63,"x":6,"y":-6},{"p":63,"x":7,"y":-224},{"p":63,"x":8,"y":6},{"p":63,"x":9,"y":-6},{"p":63,"x":10,"y":10},{"p":63,"x":11,"y":6},{"p":63,"x":12,"y":-218},{"p":63,"x":13,"y":12},{"p":63,"x":14,"y":-12},{"p":63,"x":15,"y":-6},
    {"p":64,"x":1,"y":-8},{"p":64,"x":2,"y":-236},{"p":64,"x":3,"y":12},{"p":64,"x":4,"y":4},{"p":64,"x":5,"y":-14},{"p":64,"x":6,"y":8},{"p":64,"x":7,"y":-248},{"p":64,"x":8,"y":-8},{"p":64,"x":9,"y":10},{"p":64,"x":10,"y":-10},{"p":64,"x":11,"y":-4},{"p":64,"x":12,"y":-240},{"p":64,"x":13,"y":-8},{"p":64,"x":14,"y":-6},{"p":64,"x":15,"y":4},
    {"p":65,"x":1,"y":12},{"p":65,"x":2,"y":-220},{"p":65,"x":3,"y":0},{"p":65,"x":4,"y":-14},{"p":65,"x":5,"y":6},{"p":65,"x":6,"y":-12},{"p":65,"x":7,"y":-234},{"p":65,"x":8,"y":10},{"p":65,"x":9,"y":0},{"p":65,"x":10,"y":2},{"p":65,"x":11,"y":12},{"p":65,"x":12,"y":-234},{"p":65,"x":13,"y":8},{"p":65,"x":14,"y":12},{"p":65,"x":15,"y":-12},
    {"p":66,"x":1,"y":0},{"p":66,"x":2,"y":-226},{"p":66,"x":3,"y":-6},{"p":66,"x":4,"y":10},{"p":66,"x":5,"y":-4},{"p":66,"x":6,"y":4},{"p":66,"x":7,"y":-222},{"p":66,"x":8,"y":-14},{"p":66,"x":9,"y":-12},{"p":66,"x":10,"y":-8},{"p":66,"x":11,"y":-10},{"p":66,"x":12,"y":-226},{"p":66,"x":13,"y":-2},{"p":66,"x":14,"y":-12},{"p":66,"x":15,"y":8},
    {"p":67,"x":1,"y":-6},{"p":67,"x":2,"y":-214},{"p":67,"x":3,"y":8},{"p":67,"x":4,"y":-6},{"p":67,"x":5,"y":10},{"p":67,"x":6,"y":-8},{"p":67,"x":7,"y":-240},{"p":67,"x":8,"y":4},{"p":67,"x":9,"y":6},{"p":67,"x":10,"y":8},{"p":67,"x":11,"y":8},{"p":67,"x":12,"y":-248},{"p":67,"x":13,"y":14},{"p":67,"x":14,"y":2},{"p":67,"x":15,"y":-2},
    {"p":68,"x":1,"y":7},{"p":68,"x":2,"y":-230},{"p":68,"x":3,"y":-12},{"p":68,"x":4,"y":2},{"p":68,"x":5,"y":-8},{"p":68,"x":6,"y":10},{"p":68,"x":7,"y":-230},{"p":68,"x":8,"y":-10},{"p":68,"x":9,"y":-8},{"p":68,"x":10,"y":-14},{"p":68,"x":11,"y":-2},{"p":68,"x":12,"y":-222},{"p":68,"x":13,"y":-12},{"p":68,"x":14,"y":8},{"p":68,"x":15,"y":2},
    {"p":69,"x":1,"y":-14},{"p":69,"x":2,"y":-218},{"p":69,"x":3,"y":6},{"p":69,"x":4,"y":-10},{"p":69,"x":5,"y":0},{"p":69,"x":6,"y":-4},{"p":69,"x":7,"y":-244},{"p":69,"x":8,"y":2},{"p":69,"x":9,"y":12},{"p":69,"x":10,"y":4},{"p":69,"x":11,"y":-12},{"p":69,"x":12,"y":-236},{"p":69,"x":13,"y":4},{"p":69,"x":14,"y":-10},{"p":69,"x":15,"y":-8},
    {"p":70,"x":1,"y":2},{"p":70,"x":2,"y":-228},{"p":70,"x":3,"y":3},{"p":70,"x":4,"y":8},{"p":70,"x":5,"y":-6},{"p":70,"x":6,"y":6},{"p":70,"x":7,"y":-236},{"p":70,"x":8,"y":8},{"p":70,"x":9,"y":-4},{"p":70,"x":10,"y":-6},{"p":70,"x":11,"y":6},{"p":70,"x":12,"y":-242},{"p":70,"x":13,"y":-6},{"p":70,"x":14,"y":4},{"p":70,"x":15,"y":-2}
  ]},
  "layer": [
    {
      "mark": {"type": "line", "strokeWidth": 1, "clip": true},
      "encoding": {
        "x": {"field": "x", "type": "quantitative", "scale": {"domain": [0, 15], "nice": false, "zero": false}, "axis": {"values": [0, 5, 10, 15], "title": "ADC sample #", "titlePadding": 5}},
        "y": {"field": "y", "type": "quantitative", "scale": {"domain": [-300, 50], "nice": false}, "axis": {"values": [-300, -250, -200, -150, -100, -50, 0, 50], "title": null}},
        "color": {"field": "p", "type": "nominal", "scale": {"range": ["#0000ff", "#008000", "#ff0000", "#00bfbf", "#bf00bf", "#bfbf00", "#404040"]}, "legend": null}
      }
    },
    {
      "mark": {"type": "point", "opacity": 0},
      "encoding": {
        "x": {"field": "x", "type": "quantitative", "axis": {"orient": "top", "values": [0, 5, 10, 15], "labels": false, "title": null}},
        "y": {"field": "y", "type": "quantitative", "axis": {"orient": "right", "values": [-300, -250, -200, -150, -100, -50, 0, 50], "labels": false, "title": null}}
      }
    }
  ],
  "resolve": {"axis": {"x": "independent", "y": "independent"}}
}
